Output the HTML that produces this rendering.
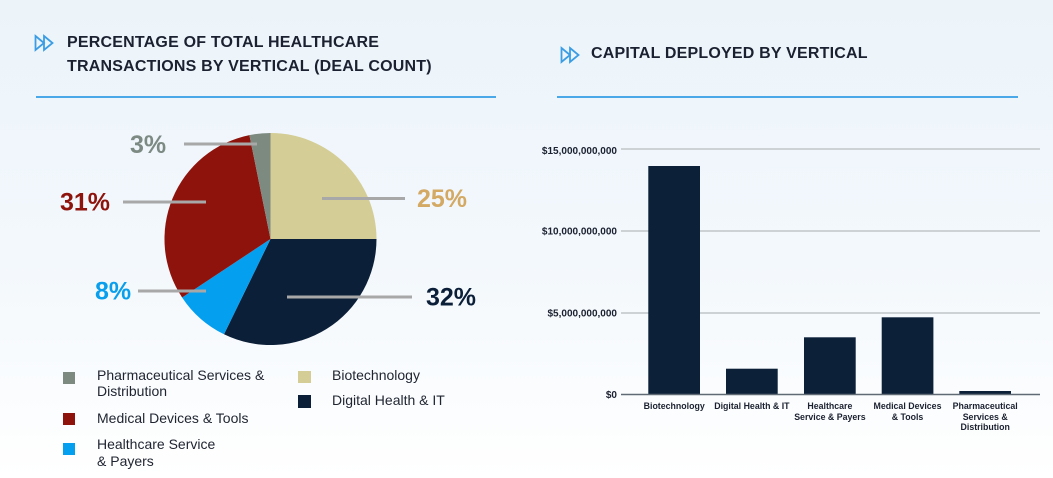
<!DOCTYPE html>
<html>
<head>
<meta charset="utf-8">
<style>
  html,body{margin:0;padding:0;}
  body{width:1053px;height:478px;overflow:hidden;position:relative;
    background:linear-gradient(180deg,#ecf4fa 0%,#f3f8fc 55%,#ffffff 100%);
    font-family:"Liberation Sans",Arial,sans-serif;}
  .title{position:absolute;font-weight:bold;font-size:16px;line-height:24px;color:#1b2130;letter-spacing:0.2px;white-space:nowrap;}
  .leg{position:absolute;font-size:14px;line-height:16px;color:#1f2430;white-space:nowrap;}
  .sq{position:absolute;width:12px;height:12px;}
  svg{position:absolute;left:0;top:0;}
</style>
</head>
<body>
<div class="title" style="left:67px;top:31px;">PERCENTAGE OF TOTAL HEALTHCARE<br>TRANSACTIONS BY VERTICAL (DEAL COUNT)</div>
<div class="title" style="left:591px;top:42px;">CAPITAL DEPLOYED BY VERTICAL</div>

<svg width="1053" height="478" viewBox="0 0 1053 478" xmlns="http://www.w3.org/2000/svg">
  <!-- header icons -->
  <g fill="none" stroke="#3b9de4" stroke-width="1.8" stroke-linejoin="miter">
    <polygon points="35.5,36 44,43 35.5,50"/>
    <polygon points="44,36 52.5,43 44,50"/>
    <polygon points="561.5,48 570,55 561.5,62"/>
    <polygon points="570,48 578.5,55 570,62"/>
  </g>
  <!-- dividers -->
  <line x1="36" y1="97" x2="496" y2="97" stroke="#4ba8e8" stroke-width="2"/>
  <line x1="557" y1="97" x2="1018" y2="97" stroke="#4ba8e8" stroke-width="2"/>

  <!-- pie -->
  <path d="M270.5,239 L270.5,133 A106,106 0 0 1 376.5,239 Z" fill="#d4cd95"/>
  <path d="M270.5,239 L376.5,239 A106,106 0 0 1 224.0,334.3 Z" fill="#0c1f38"/>
  <path d="M270.5,239 L224.0,334.3 A106,106 0 0 1 182.1,297.5 Z" fill="#059ff0"/>
  <path d="M270.5,239 L182.1,297.5 A106,106 0 0 1 249.4,135.1 Z" fill="#8e130c"/>
  <path d="M270.5,239 L249.4,135.1 A106,106 0 0 1 270.5,133 Z" fill="#7d8a80"/>

  <!-- leader lines -->
  <g stroke="#a8a8a8" stroke-width="3">
    <line x1="184" y1="144" x2="257" y2="144"/>
    <line x1="322" y1="198.5" x2="405" y2="198.5"/>
    <line x1="123" y1="202" x2="206" y2="202"/>
    <line x1="138" y1="291" x2="206" y2="291"/>
    <line x1="287" y1="297" x2="412" y2="297"/>
  </g>
  <g font-family="Liberation Sans, Arial, sans-serif" font-weight="bold" font-size="25">
    <text x="130" y="153" fill="#7d8a84">3%</text>
    <text x="417" y="207" fill="#d3a964">25%</text>
    <text x="60" y="210.5" fill="#8e130c">31%</text>
    <text x="95" y="299.5" fill="#099fec">8%</text>
    <text x="426" y="305.5" fill="#0c1f38">32%</text>
  </g>

  <!-- bar chart -->
  <g stroke="#cdd3d4" stroke-width="2">
    <line x1="621" y1="149" x2="1040" y2="149"/>
    <line x1="621" y1="231" x2="1040" y2="231"/>
    <line x1="621" y1="313" x2="1040" y2="313"/>
  </g>
  <g fill="#0c2038">
    <rect x="648.3" y="166" width="51.7" height="228.5"/>
    <rect x="726" y="368.7" width="51.7" height="25.8"/>
    <rect x="804" y="337.3" width="51.7" height="57.2"/>
    <rect x="881.7" y="317.3" width="51.7" height="77.2"/>
    <rect x="959.3" y="391" width="51.7" height="3.5"/>
  </g>
  <line x1="621" y1="394.5" x2="1040" y2="394.5" stroke="#5f6a75" stroke-width="1.5"/>
  <g font-family="Liberation Sans, Arial, sans-serif" font-weight="bold" font-size="10" fill="#1b2130" text-anchor="end">
    <text x="617" y="154">$15,000,000,000</text>
    <text x="617" y="234.6">$10,000,000,000</text>
    <text x="617" y="316.6">$5,000,000,000</text>
    <text x="617" y="397.9">$0</text>
  </g>
  <g font-family="Liberation Sans, Arial, sans-serif" font-weight="bold" font-size="8.8" fill="#1b2130" text-anchor="middle">
    <text x="674.2" y="409.2">Biotechnology</text>
    <text x="751.9" y="409.2">Digital Health &amp; IT</text>
    <text x="829.9" y="409.2">Healthcare</text>
    <text x="829.9" y="419.8">Service &amp; Payers</text>
    <text x="907.5" y="409.2">Medical Devices</text>
    <text x="907.5" y="419.8">&amp; Tools</text>
    <text x="985.2" y="409.2">Pharmaceutical</text>
    <text x="985.2" y="419.8">Services &amp;</text>
    <text x="985.2" y="430">Distribution</text>
  </g>
</svg>

<!-- legend -->
<div class="sq" style="left:63px;top:372px;background:#7d8a80;"></div>
<div class="leg" style="left:97px;top:367px;">Pharmaceutical Services &amp;<br>Distribution</div>
<div class="sq" style="left:63px;top:413px;background:#8e130c;"></div>
<div class="leg" style="left:97px;top:410px;">Medical Devices &amp; Tools</div>
<div class="sq" style="left:63px;top:443px;background:#059ff0;"></div>
<div class="leg" style="left:97px;top:436px;line-height:17px;">Healthcare Service<br>&amp; Payers</div>
<div class="sq" style="left:298px;top:371px;width:13px;background:#d4cd95;"></div>
<div class="leg" style="left:332px;top:367px;">Biotechnology</div>
<div class="sq" style="left:298px;top:395px;width:13px;height:13px;background:#0c1f38;"></div>
<div class="leg" style="left:332px;top:392px;">Digital Health &amp; IT</div>
</body>
</html>
